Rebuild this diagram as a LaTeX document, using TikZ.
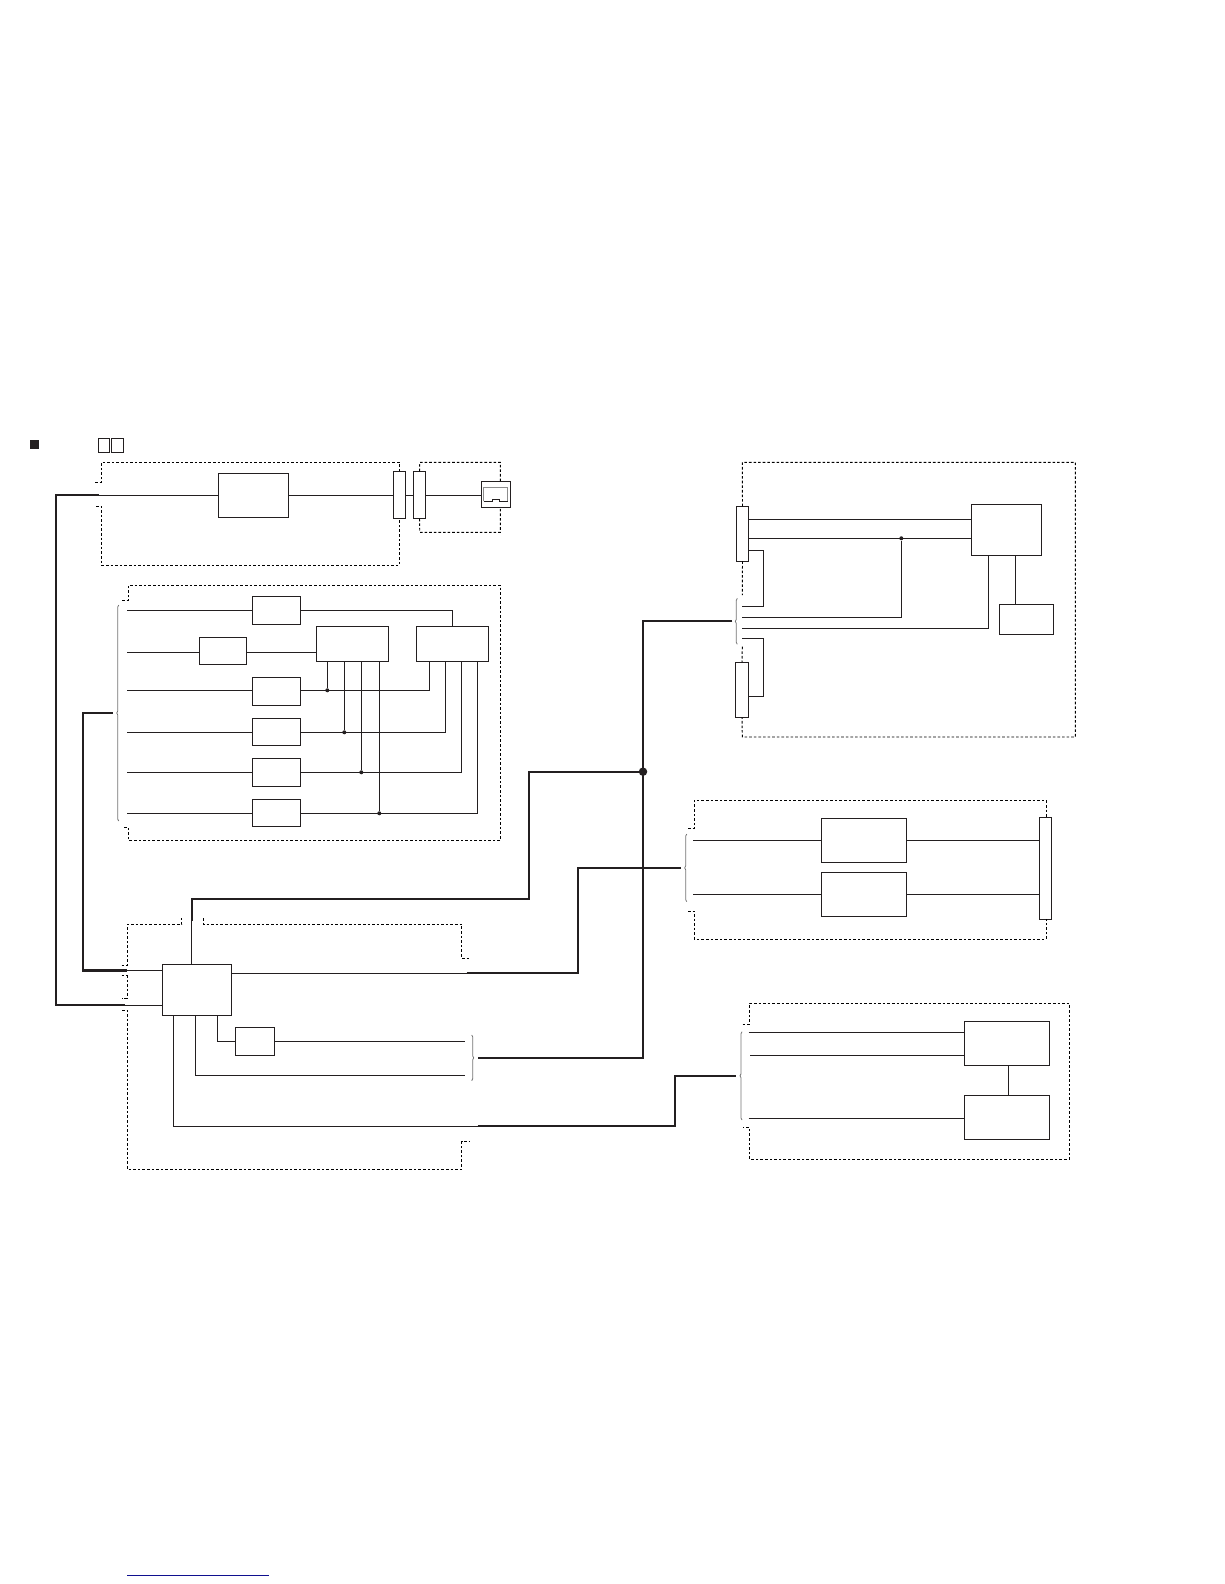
\documentclass[tikz,border=0pt]{standalone}
\usepackage{xcolor}
\usepackage{tikz}
\usetikzlibrary{positioning,calc,decorations.pathreplacing}
\definecolor{inkblack}{HTML}{231F20}
\definecolor{linkblue}{HTML}{10108F}
\tikzset{
    block/.style={draw=inkblack, line width=0.9pt, fill=white, inner sep=0pt, outer sep=0pt},
    rowbox/.style={block, minimum width=48.4pt},
    wire/.style={draw=inkblack, line width=0.9pt},
    bus/.style={draw=inkblack, line width=2.1pt, line join=miter},
    frame/.style={draw=black, line width=0.95pt, dash pattern=on 2.6pt off 2pt},
    bracket/.style={draw=black!55, line width=0.8pt, decorate, decoration={brace, amplitude=2pt}},
    joint/.style={circle, fill=inkblack, inner sep=0pt, minimum size=4pt}
}

\begin{document}
\begin{tikzpicture}[x=1pt, y=-1pt]
    \useasboundingbox (0,0) rectangle (1224,1584);

    % Heading marks
    \node[fill=inkblack, inner sep=0pt, minimum size=9pt] (bullet) at (34.5,444.5) {};
    \node[block, minimum width=11.4pt, minimum height=14.4pt] (titleA) at (104,445.5) {};
    \node[block, minimum width=12.4pt, minimum height=14.4pt] (titleB) at (117.5,445.5) {};

    % Top block with card
    \node[block, minimum width=70.4pt, minimum height=44pt] (tunerBox) at (253.5,495.3) {};
    \node[block, minimum width=12.4pt, minimum height=47.4pt] (connA) at (399.5,495) {};
    \node[block, minimum width=12.4pt, minimum height=47.4pt] (connB) at (419.5,495) {};
    \node[block, minimum width=29.4pt, minimum height=26.4pt] (cardBox) at (496,494.5) {};
    \coordinate (tunerIn) at (97,495.3);
    \draw[wire] (tunerIn) -- (tunerBox.west);
    \draw[wire] (tunerBox.east) -- (tunerBox.east -| connA.west);
    \draw[wire] (tunerBox.east -| connA.east) -- (tunerBox.east -| connB.west);
    \draw[wire] (tunerBox.east -| connB.east) -- (tunerBox.east -| cardBox.west);
    \draw[frame] (95,482.3) -- (101.3,482.3) -- (101.3,462.3) -- (399.5,462.3) -- (connA.north);
    \draw[frame] (96,506) -- (101.3,506) -- (101.3,565) -- (399.5,565) -- (connA.south);
    \draw[frame] (connB.north) -- (419.8,462.3) -- (500.3,462.3) -- (cardBox.north -| 500.3,0);
    \draw[frame] (connB.south) -- (419.8,532.3) -- (500.3,532.3) -- (cardBox.south -| 500.3,0);
    % card outline
    \draw[black!45, line width=0.9pt] (483.6,501.4) -- (483.6,487.7) -- (507.6,487.7) -- (507.6,501.4);
    \draw[wire] (483.6,501.4) -- (492.7,501.4) -- (492.7,499) -- (499.3,499) -- (499.3,501.4) -- (507.6,501.4);

    % Second block, six rows
    \node[rowbox, minimum height=28pt] (rowBoxA) at (276.5,610.3) {};
    \node[block, minimum width=47.4pt, minimum height=27pt] (smallBox) at (223,650.8) {};
    \node[rowbox, minimum height=28pt] (rowBoxB) at (276.5,691.3) {};
    \node[rowbox, minimum height=27pt] (rowBoxC) at (276.5,731.8) {};
    \node[rowbox, minimum height=28pt] (rowBoxD) at (276.5,772.3) {};
    \node[rowbox, minimum height=27pt] (rowBoxE) at (276.5,812.8) {};
    \node[block, minimum width=72.4pt, minimum height=35.4pt] (leftBox) at (352.5,644) {};
    \node[block, minimum width=72.4pt, minimum height=35.4pt] (rightBox) at (452.5,644) {};
    \coordinate (rowInA) at (127,610.3);
    \coordinate (rowInF) at (127,652.3);
    \coordinate (rowInB) at (127,690.3);
    \coordinate (rowInC) at (127,732.3);
    \coordinate (rowInD) at (127,772.3);
    \coordinate (rowInE) at (127,813.3);
    \draw[wire] (rowInA) -- (rowBoxA.west);
    \draw[wire] (rowInF) -- (rowInF -| smallBox.west);
    \draw[wire] (rowInF -| smallBox.east) -- (rowInF -| leftBox.west);
    \draw[wire] (rowInB) -- (rowInB -| rowBoxB.west);
    \draw[wire] (rowInC) -- (rowInC -| rowBoxC.west);
    \draw[wire] (rowInD) -- (rowBoxD.west);
    \draw[wire] (rowInE) -- (rowInE -| rowBoxE.west);
    \draw[wire] (rowBoxA.east) -| (rightBox.north);

    \coordinate (rightDropA) at (429.3,661.7);
    \coordinate (rightDropB) at (445.3,661.7);
    \coordinate (rightDropC) at (461.3,661.7);
    \coordinate (rightDropD) at (477.3,661.7);
    \draw[wire] (rowInB -| rowBoxB.east) -| (rightDropA);
    \draw[wire] (rowInC -| rowBoxC.east) -| (rightDropB);
    \draw[wire] (rowInD -| rowBoxD.east) -| (rightDropC);
    \draw[wire] (rowInE -| rowBoxE.east) -| (rightDropD);

    \node[joint] (jointA) at (327.3,690.3) {};
    \node[joint] (jointB) at (344.3,732.3) {};
    \node[joint] (jointC) at (361.3,772.3) {};
    \node[joint] (jointD) at (379.3,813.3) {};
    \draw[wire] (jointA) -- (jointA |- leftBox.south);
    \draw[wire] (jointB) -- (jointB |- leftBox.south);
    \draw[wire] (jointC) -- (jointC |- leftBox.south);
    \draw[wire] (jointD) -- (jointD |- leftBox.south);

    \draw[frame] (122,600.3) -- (128.3,600.3) -- (128.3,585.3) -- (500.3,585.3) -- (500.3,840.3) -- (128.3,840.3) -- (128.3,827.3) -- (124,827.3);
    \draw[bracket] (118.7,821) -- (118.7,605);

    % Main block bottom left
    \node[block, minimum width=69.4pt, minimum height=51pt] (mainBox) at (197,989.8) {};
    \node[block, minimum width=39.4pt, minimum height=28.3pt] (subBox) at (255,1041.2) {};
    \coordinate (mainInA) at (127,970.5);
    \coordinate (mainInB) at (125,1005.3);
    \coordinate (mainTop) at (191.7,920.7);
    \coordinate (mainOutA) at (466.7,973.3);
    \coordinate (mainOutB) at (465,1041.3);
    \coordinate (mainOutC) at (465,1075.3);
    \coordinate (mainOutD) at (477.7,1126.3);
    \draw[wire] (mainInA) -- (mainInA -| mainBox.west);
    \draw[wire] (mainInB) -- (mainInB -| mainBox.west);
    \draw[wire] (mainTop) -- (mainTop |- mainBox.north);
    \draw[wire] (mainOutA -| mainBox.east) -- (mainOutA);
    \draw[wire] (217.3,1015.3) |- (subBox.west);
    \draw[wire] (mainOutB -| subBox.east) -- (mainOutB);
    \draw[wire] (195.3,1015.3) |- (mainOutC);
    \draw[wire] (173.3,1015.3) |- (mainOutD);
    \draw[bracket] (471.7,1035) -- (471.7,1080.7);

    \draw[frame] (121.7,965.3) -- (127.3,965.3) -- (127.3,924) -- (181.7,924) -- (181.7,918);
    \draw[frame] (203.3,918) -- (203.3,924) -- (461.7,924) -- (461.7,958.3) -- (469,958.3);
    \draw[frame] (121.7,975.7) -- (127,975.7) -- (127,998) -- (122,998);
    \draw[frame] (122,1010.3) -- (127.3,1010.3) -- (127.3,1169.3) -- (461.7,1169.3) -- (461.7,1141.3) -- (469,1141.3);

    % Upper right block
    \node[block, minimum width=12.4pt, minimum height=55pt] (connC) at (742.5,533.8) {};
    \node[block, minimum width=13.4pt, minimum height=55pt] (connD) at (742,689.8) {};
    \node[block, minimum width=70.4pt, minimum height=51pt] (procBox) at (1006.5,529.8) {};
    \node[block, minimum width=54.4pt, minimum height=30pt] (memBox) at (1026.5,619.3) {};
    \coordinate (procInA) at (748.7,519.3);
    \coordinate (procInB) at (748.7,538.3);
    \coordinate (stubA) at (742.3,606);
    \coordinate (stubB) at (742.3,617.3);
    \coordinate (stubC) at (742.3,628.3);
    \coordinate (stubD) at (742.3,638.3);
    \node[joint] (jointE) at (901.3,538.3) {};
    \draw[wire] (procInA) -- (procInA -| procBox.west);
    \draw[wire] (procInB) -- (procInB -| procBox.west);
    \draw[wire] (connC.east |- 0,550.3) -- (763.3,550.3) -- (763.3,606) -- (stubA);
    \draw[wire] (stubB) -| (jointE);
    \draw[wire] (stubC) -| (procBox.south -| 988.3,0);
    \draw[wire] (stubD) -- (763.3,638.3) -- (763.3,696.3) -- (connD.east |- 0,696.3);
    \draw[wire] (memBox.north -| 1015.7,0) -- (procBox.south -| 1015.7,0);
    \draw[frame] (connC.north) -- (742.3,462.3) -- (1075.3,462.3) -- (1075.3,737) -- (742.3,737) -- (connD.south);
    \draw[frame] (connC.south) -- (742.3,595);
    \draw[frame] (742.3,646.7) -- (connD.north);
    \draw[bracket] (737.3,644.3) -- (737.3,598.3);

    % Middle right block
    \node[block, minimum width=85.4pt, minimum height=44pt] (midBoxA) at (864,840.3) {};
    \node[block, minimum width=85.4pt, minimum height=44pt] (midBoxB) at (864,894.3) {};
    \node[block, minimum width=12.4pt, minimum height=102pt] (connE) at (1045.5,868.3) {};
    \coordinate (midInA) at (693,840.3);
    \coordinate (midInB) at (693,894.3);
    \draw[wire] (midInA) -- (midBoxA.west);
    \draw[wire] (midInB) -- (midBoxB.west);
    \draw[wire] (midBoxA.east) -- (midBoxA.east -| connE.west);
    \draw[wire] (midBoxB.east) -- (midBoxB.east -| connE.west);
    \draw[frame] (688,828.3) -- (694.3,828.3) -- (694.3,800.3) -- (1046.3,800.3) -- (connE.north -| 1046.3,0);
    \draw[frame] (688,911) -- (694.3,911) -- (694.3,939) -- (1046.3,939) -- (connE.south -| 1046.3,0);
    \draw[bracket] (686.7,901.7) -- (686.7,834);

    % Lower right block
    \node[block, minimum width=85.4pt, minimum height=44pt] (lowBoxA) at (1007,1043.3) {};
    \node[block, minimum width=85.4pt, minimum height=44pt] (lowBoxB) at (1007,1117.3) {};
    \coordinate (lowInA) at (748.7,1032.3);
    \coordinate (lowInB) at (750,1055.3);
    \coordinate (lowInC) at (748.7,1118.3);
    \draw[wire] (lowInA) -- (lowInA -| lowBoxA.west);
    \draw[wire] (lowInB) -- (lowInB -| lowBoxA.west);
    \draw[wire] (lowInC) -- (lowInC -| lowBoxB.west);
    \draw[wire] (lowBoxA.south -| 1008.3,0) -- (lowBoxB.north -| 1008.3,0);
    \draw[frame] (742.7,1024.3) -- (749.3,1024.3) -- (749.3,1003.3) -- (1069.3,1003.3) -- (1069.3,1159) -- (749.3,1159) -- (749.3,1127.3) -- (742.7,1127.3);
    \draw[bracket] (742,1120) -- (742,1031.7);

    % Thick buses
    \coordinate (busTopStart) at (99,495.3);
    \coordinate (busMidStart) at (112.7,713.3);
    \coordinate (busRightTop) at (732.3,621);
    \coordinate (busMidRight) at (681,868);
    \coordinate (busLowRight) at (736,1075.7);
    \coordinate (busCross) at (477.7,1058);
    \draw[bus] (busTopStart) -- (55.7,495.3) -- (55.7,1005.3) -- (mainInB);
    \draw[bus] (busMidStart) -- (82.8,713.3) -- (82.8,970.5) -- (mainInA);
    \draw[bus] (mainTop) -- (191.7,899) -- (529.3,899) -- (529.3,771.7) -- (643,771.7);
    \draw[bus] (busRightTop) -- (643,621) -- (643,1058) -- (busCross);
    \draw[bus] (mainOutA) -- (577.7,973.3) -- (577.7,868) -- (busMidRight);
    \draw[bus] (mainOutD) -- (674.7,1126.3) -- (674.7,1075.7) -- (busLowRight);
    \node[circle, fill=inkblack, inner sep=0pt, minimum size=8.5pt] (busJoint) at (643,771.7) {};

    % Link rule at foot of page
    \coordinate (ruleL) at (127,1575);
    \coordinate (ruleR) at (268.7,1575);
    \draw[linkblue, line width=1pt] (ruleL) -- (ruleR);
\end{tikzpicture}
\end{document}
